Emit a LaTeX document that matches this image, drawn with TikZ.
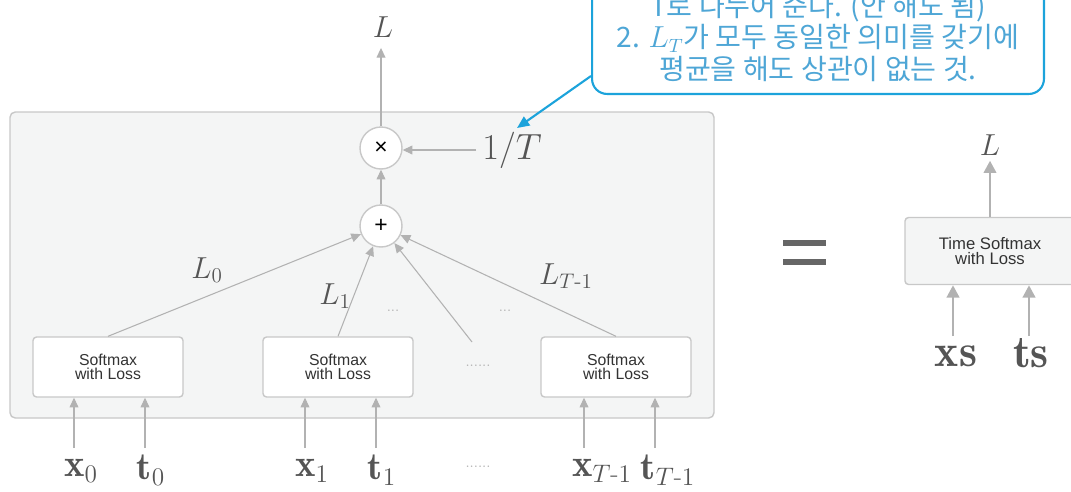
\documentclass[tikz,border=0pt]{standalone}
\usepackage{amsmath}
\usepackage{fontspec}
\newfontfamily\kofont{Noto Sans CJK KR}
\newfontfamily\helvfont{Liberation Sans}
\usetikzlibrary{arrows.meta, positioning}

\definecolor{linegray}{RGB}{178,178,178}
\definecolor{framegray}{RGB}{200,200,200}
\definecolor{panelgray}{RGB}{244,245,245}
\definecolor{labelgray}{RGB}{85,85,85}
\definecolor{callblue}{RGB}{28,163,219}
\definecolor{calltext}{RGB}{78,166,214}

\tikzset{
  lossbox/.style={draw=framegray, fill=white, rounded corners=2pt, line width=0.8pt,
    minimum width=3cm, minimum height=1.2cm, align=center, inner sep=0pt,
    text=black!80, font=\helvfont\fontsize{9}{8}\selectfont},
  timebox/.style={lossbox, fill=panelgray, minimum width=3.4cm, minimum height=1.34cm,
    font=\helvfont\fontsize{9.5}{8.5}\selectfont},
  opnode/.style={circle, draw=framegray, fill=white, line width=0.8pt,
    minimum size=0.84cm, inner sep=0pt, font=\helvfont\fontsize{13}{13}\selectfont},
  losslabel/.style={text=labelgray, inner sep=2pt, font=\fontsize{18}{18}\selectfont},
  inlabel/.style={text=labelgray, inner sep=2pt, font=\fontsize{22}{22}\selectfont},
  dotlabel/.style={text=linegray, inner sep=0pt, font=\fontsize{8}{8}\selectfont},
  arr/.style={draw=linegray, line width=0.6pt, -{Triangle[length=5.5pt,width=5pt]}},
  bigarr/.style={draw=linegray, line width=1.6pt, -{Triangle[length=7pt,width=7pt]}},
  callout/.style={draw=callblue, fill=white, line width=1.2pt, rounded corners=0.3cm,
    minimum width=9.04cm, inner ysep=7pt, align=center, text=calltext,
    font=\kofont\fontsize{16}{18}\selectfont},
  callarr/.style={draw=callblue, line width=1.2pt, -{Triangle[length=7pt,width=6pt]}},
}

\begin{document}
\begin{tikzpicture}[x=0.02cm, y=-0.02cm]
  \useasboundingbox (0,0) rectangle (1071,491);
  \clip (0,0) rectangle (1071,491);

  % Panel of the T layers
  \draw[draw=framegray, fill=panelgray, rounded corners=3pt, line width=0.8pt]
    (10,112) rectangle (714,418);

  % Softmax with Loss layers
  \node[lossbox] (sm0) at (108,367) {Softmax\\with Loss};
  \node[lossbox] (sm1) at (338,367) {Softmax\\with Loss};
  \node[lossbox] (sm2) at (616,367) {Softmax\\with Loss};
  \node[dotlabel] (middots) at (478,366) {......};

  % Sum and average
  \node[opnode] (plus) at (381,226) {+};
  \node[opnode] (times) at (381,148) {×};
  \node[text=labelgray, font=\fontsize{22}{22}\selectfont] (invT) at (512,150) {$1/T$};
  \node[losslabel, outer sep=4pt] (Ltop) at (383,27) {$L$};
  \coordinate (midin) at (472,342);

  \draw[arr] (sm0.north) -- (plus);
  \draw[arr] (sm1.north) -- (plus);
  \draw[arr] (midin) -- (plus);
  \draw[arr] (sm2.north) -- (plus);
  \draw[arr] (plus) -- (times);
  \draw[arr] (invT.west) -- (invT.west -| times.east);
  \draw[arr] (times) -- (times |- Ltop.south);

  % Loss labels
  \node[losslabel] (L0) at (207,270) {$L_0$};
  \node[losslabel] (L1) at (335,296) {$L_1$};
  \node[losslabel] (LT) at (566,276) {$L_{T\text{-}1}$};
  \node[dotlabel] (dotsa) at (393,311) {...};
  \node[dotlabel] (dotsb) at (505,311) {...};

  % Inputs
  \node[inlabel] (x0) at (81,471) {$\mathbf{x}_0$};
  \node[inlabel] (t0) at (151,470) {$\mathbf{t}_0$};
  \node[inlabel] (x1) at (312,471) {$\mathbf{x}_1$};
  \node[inlabel] (t1) at (382,470) {$\mathbf{t}_1$};
  \node[dotlabel] (bottomdots) at (478,467) {......};
  \node[inlabel] (x2) at (602,471) {$\mathbf{x}_{T\text{-}1}$};
  \node[inlabel] (t2) at (668,470) {$\mathbf{t}_{T\text{-}1}$};

  \foreach \name/\px/\layer in {x0/74/sm0, t0/145/sm0, x1/305/sm1,
                                t1/376/sm1, x2/584/sm2, t2/655/sm2} {
    \coordinate (\name in) at (\px,448);
    \draw[arr] (\name in) -- (\name in |- \layer.south);
  }

  % Equals sign
  \fill[labelgray!90] (783,240) rectangle (826,246);
  \fill[labelgray!90] (783,259) rectangle (826,265);

  % Time Softmax with Loss
  \node[timebox] (tsm) at (990,251) {Time Softmax\\with Loss};
  \node[losslabel, outer sep=1pt] (Lout) at (990,145) {$L$};
  \node[inlabel, font=\fontsize{26}{26}\selectfont] (xs) at (956,356) {$\mathbf{xs}$};
  \node[inlabel, font=\fontsize{26}{26}\selectfont] (ts) at (1031,353) {$\mathbf{ts}$};
  \coordinate (xsin) at (953,336);
  \coordinate (tsin) at (1029,336);

  \draw[bigarr] (tsm.north) -- (Lout.south);
  \draw[bigarr] (xsin) -- (xsin |- tsm.south);
  \draw[bigarr] (tsin) -- (tsin |- tsm.south);

  % Callout note (cut at the top)
  \node[callout, anchor=south] (note) at (818,95)
    {T로 나누어 준다. (안 해도 됨)\\2. $L_T$가 모두 동일한 의미를 갖기에\\평균을 해도 상관이 없는 것.};
  \coordinate (tip) at (517,128);
  \draw[callarr] (note.south west) ++(0,-19) -- (tip);
\end{tikzpicture}
\end{document}
